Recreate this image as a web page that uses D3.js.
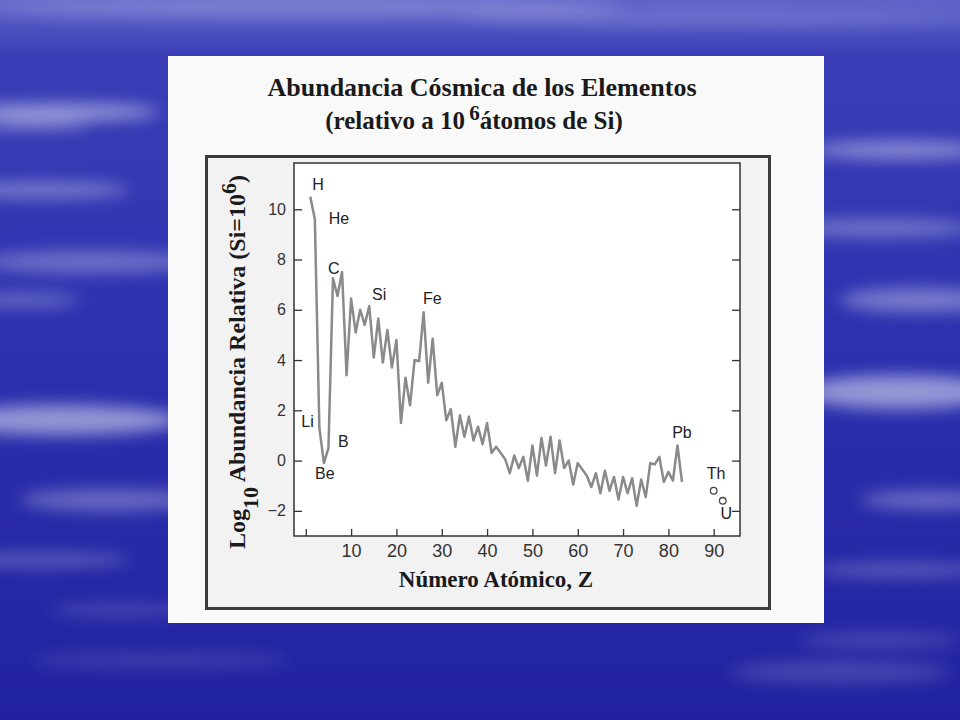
<!DOCTYPE html>
<html><head><meta charset="utf-8">
<script src="https://cdn.jsdelivr.net/npm/d3@7"></script>
<style>html,body{margin:0;padding:0;background:#2b2fa8;} svg{display:block}</style>
</head><body><svg id="c" width="960" height="720"></svg>
<script>
// ---- data ----
const atomicNumbers = [1,2,3,4,5,6,7,8,9,10,11,12,13,14,15,16,17,18,19,20,21,22,23,24,25,26,27,28,29,30,
  31,32,33,34,35,36,37,38,39,40,41,42,44,45,46,47,48,49,50,51,52,53,54,55,56,57,58,59,60,
  62,63,64,65,66,67,68,69,70,71,72,73,74,75,76,77,78,79,80,81,82,83];
const logAbundance = [10.5,9.6,1.3,-0.1,0.5,7.25,6.55,7.5,3.4,6.45,5.1,6.0,5.4,6.15,4.1,5.65,3.9,5.2,3.7,4.8,
  1.5,3.3,2.2,4.0,3.95,5.9,3.1,4.85,2.6,3.1,
  1.6,2.05,0.55,1.8,0.95,1.75,0.8,1.35,0.65,1.5,0.3,0.55,0.05,-0.5,0.2,-0.3,0.15,-0.8,0.6,-0.6,0.9,-0.2,0.95,-0.5,0.8,-0.3,0.0,-0.95,-0.1,
  -0.6,-1.05,-0.5,-1.3,-0.4,-1.2,-0.65,-1.55,-0.65,-1.3,-0.7,-1.8,-0.75,-1.45,-0.1,-0.15,0.15,-0.85,-0.45,-0.8,0.6,-0.85];
const actinideZ = [90, 92];
const actinideValues = [-1.2, -1.6];
const annotationLabels = ["H","He","C","Si","Fe","Li","Be","B","Pb","Th","U"];
const annotationZ = [2.7, 7.3, 6.2, 16.2, 27.9, 0.4, 4.2, 8.3, 83.0, 90.5, 92.8];
const annotationV = [11.0, 9.65, 7.65, 6.6, 6.45, 1.55, -0.5, 0.75, 1.12, -0.5, -2.1];
const xTickValues = [0,10,20,30,40,50,60,70,80,90];
const yTickValues = [-2,0,2,4,6,8,10];

const svg = d3.select("#c");
const defs = svg.append("defs");

// ---- background ----
const bg = defs.append("linearGradient").attr("id","bg").attr("x1",0).attr("y1",0).attr("x2",0).attr("y2",1);
bg.append("stop").attr("offset","0").attr("stop-color","#5e62c8");
bg.append("stop").attr("offset","0.08").attr("stop-color","#3a3eb6");
bg.append("stop").attr("offset","0.5").attr("stop-color","#2c30ae");
bg.append("stop").attr("offset","1").attr("stop-color","#2222a0");
defs.append("filter").attr("id","blur").attr("x","-50%").attr("y","-50%").attr("width","200%").attr("height","200%")
  .append("feGaussianBlur").attr("stdDeviation",8);
svg.append("rect").attr("width",960).attr("height",720).attr("fill","url(#bg)");
const clouds = [
  [60,112,100,8,.5],[30,125,60,5,.35],[40,190,90,8,.35],[90,262,110,11,.3],[20,300,60,8,.25],
  [60,420,120,15,.5],[110,500,90,11,.3],[40,560,90,7,.25],[120,610,70,6,.18],
  [900,150,90,9,.42],[880,228,95,9,.32],[920,300,80,12,.36],[900,392,100,17,.5],
  [930,500,70,9,.32],[900,570,85,7,.25],[880,640,80,7,.18],
  [300,8,320,12,.2],[720,18,260,9,.16],[840,672,110,11,.16],[160,660,130,8,.12]
];
svg.append("g").attr("filter","url(#blur)").selectAll("ellipse").data(clouds).join("ellipse")
  .attr("cx",d=>d[0]).attr("cy",d=>d[1]).attr("rx",d=>d[2]).attr("ry",d=>d[3])
  .attr("fill","#ffffff").attr("opacity",d=>d[4]);

// ---- panel and box ----
svg.append("rect").attr("x",168).attr("y",56).attr("width",656).attr("height",567).attr("fill","#f9f9f9");
svg.append("rect").attr("x",206.5).attr("y",156.5).attr("width",563).attr("height",452)
  .attr("fill","#f2f2f2").attr("stroke","#3a3a3a").attr("stroke-width",3);

// ---- titles ----
const serif = "'Liberation Serif','Times New Roman',serif";
const sans = "'Liberation Sans',Arial,sans-serif";
svg.append("text").attr("x",482).attr("y",96).attr("text-anchor","middle")
  .attr("font-family",serif).attr("font-weight","bold").attr("font-size",26).attr("fill","#1a1a1a")
  .text("Abundancia Cósmica de los Elementos");
const sub = svg.append("text").attr("x",474).attr("y",129).attr("text-anchor","middle")
  .attr("font-family",serif).attr("font-weight","bold").attr("font-size",25).attr("fill","#1a1a1a");
sub.append("tspan").text("(relativo a 10");
sub.append("tspan").attr("dy",-9).attr("font-size",21).text("\u20096");
sub.append("tspan").attr("dy",9).text("átomos de Si)");

// ---- plot area ----
const x = d3.scaleLinear().domain([-2.6, 95.8]).range([294, 740]);
const y = d3.scaleLinear().domain([-3, 11.84]).range([536, 163]);
svg.append("rect").attr("x",294).attr("y",163).attr("width",446).attr("height",373)
  .attr("fill","#ffffff");

const gx = svg.append("g").attr("transform","translate(0,536)")
  .call(d3.axisBottom(x).tickValues(xTickValues).tickSizeInner(-7).tickSizeOuter(0).tickPadding(8)
    .tickFormat(d => d === 0 ? "" : d));
const gy = svg.append("g").attr("transform","translate(294,0)")
  .call(d3.axisLeft(y).tickValues(yTickValues).tickSizeInner(-8).tickSizeOuter(0).tickPadding(8));
const gr = svg.append("g").attr("transform","translate(740,0)")
  .call(d3.axisRight(y).tickValues(yTickValues).tickSizeInner(-8).tickSizeOuter(0).tickFormat(""));
[gx,gy,gr].forEach(g => {
  g.select(".domain").remove();
  g.selectAll(".tick line").attr("stroke","#333").attr("stroke-width",1.3);
  g.selectAll(".tick text").attr("fill","#333").attr("font-family",sans);
});
gx.selectAll(".tick text").attr("font-size",18);
gy.selectAll(".tick text").attr("font-size",16);

// data line
const pts = atomicNumbers.map((z,i) => [z, logAbundance[i]]);
svg.append("path").datum(pts)
  .attr("d", d3.line().x(d=>x(d[0])).y(d=>y(d[1])))
  .attr("fill","none").attr("stroke","#8a8a8a").attr("stroke-width",2.5).attr("stroke-linejoin","round");

// Th and U
svg.append("g").selectAll("circle").data(actinideZ.map((z,i)=>[z,actinideValues[i]])).join("circle")
  .attr("cx",d=>x(d[0])).attr("cy",d=>y(d[1])).attr("r",3.3)
  .attr("fill","#fff").attr("stroke","#444").attr("stroke-width",1.3);

// labels
svg.append("g").selectAll("text").data(annotationLabels).join("text")
  .attr("x",(d,i)=>x(annotationZ[i])).attr("y",(d,i)=>y(annotationV[i]))
  .attr("text-anchor","middle").attr("dominant-baseline","central")
  .attr("font-family",sans).attr("font-size",16).attr("fill","#222").text(d=>d);

// frame
svg.append("rect").attr("x",294).attr("y",163).attr("width",446).attr("height",373)
  .attr("fill","none").attr("stroke","#333").attr("stroke-width",1.5);

// axis titles
svg.append("text").attr("x",496).attr("y",587).attr("text-anchor","middle")
  .attr("font-family",serif).attr("font-weight","bold").attr("font-size",23).attr("fill","#1a1a1a")
  .text("Número Atómico, Z");
const yl = svg.append("text").attr("transform","translate(245,362) rotate(-90)").attr("text-anchor","middle")
  .attr("font-family",serif).attr("font-weight","bold").attr("font-size",24).attr("fill","#1a1a1a");
yl.append("tspan").text("Log");
yl.append("tspan").attr("dy",13).attr("font-size",22).text("10");
yl.append("tspan").attr("dy",-13).text(" Abundancia Relativa (Si=10");
yl.append("tspan").attr("dy",-9).attr("font-size",22).text("6");
yl.append("tspan").attr("dy",9).text(")");
</script></body></html>
